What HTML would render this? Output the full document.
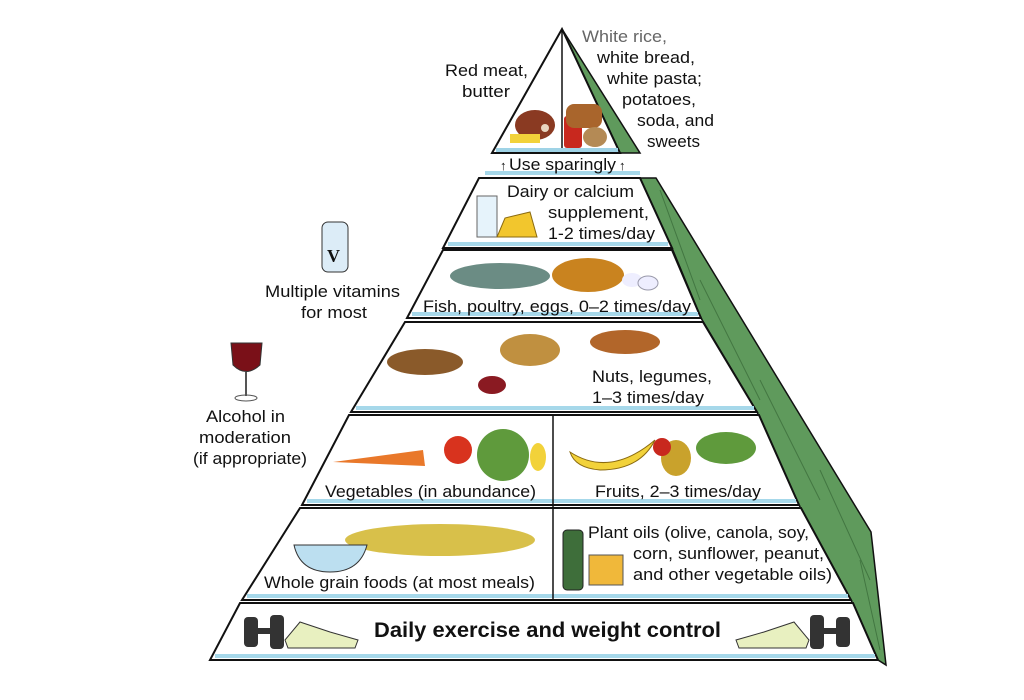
<!DOCTYPE html>
<html><head><meta charset="utf-8"><style>
html,body{margin:0;padding:0;background:#fff;}
svg{display:block;}
text{font-family:"Liberation Sans",sans-serif;fill:#111;font-size:17px;}
</style></head><body>
<svg width="1024" height="700" viewBox="0 0 1024 700" xmlns="http://www.w3.org/2000/svg">
<rect width="1024" height="700" fill="#fff"/>
<polygon points="640,178 656,178 871,532 886,665 878,660 851,600 799,505 757,412 701,318 672,248" fill="#5f9a5c" stroke="#111" stroke-width="1.5"/>
<g stroke="#2f5f30" stroke-width="1" opacity="0.6">
<line x1="660" y1="190" x2="700" y2="300"/><line x1="700" y1="280" x2="760" y2="400"/><line x1="760" y1="380" x2="820" y2="500"/><line x1="820" y1="470" x2="870" y2="580"/><line x1="860" y1="560" x2="880" y2="650"/>
</g>
<polygon points="562,29 620,153 640,153" fill="#5f9a5c" stroke="#111" stroke-width="1.5"/>
<polygon points="562,29 492,153 620,153" fill="#fff" stroke="#111" stroke-width="2"/>
<line x1="562" y1="29" x2="562" y2="153" stroke="#111" stroke-width="1.5"/>
<line x1="496" y1="150" x2="618" y2="150" stroke="#9fd3e6" stroke-width="4"/>
<g fill="#fff" stroke="#111" stroke-width="2">
<polygon points="479,178 640,178 672,248 443,248"/>
<polygon points="443,250 672,250 701,318 407,318"/>
<polygon points="405,322 703,322 757,412 351,412"/>
<polygon points="349,415 759,415 799,505 302,505"/>
<polygon points="300,508 801,508 851,600 242,600"/>
<polygon points="240,603 853,603 878,660 210,660"/>
</g>
<g stroke="#a6d8ea" stroke-width="4">
<line x1="448" y1="244" x2="668" y2="244"/>
<line x1="412" y1="314" x2="698" y2="314"/>
<line x1="356" y1="408" x2="754" y2="408"/>
<line x1="307" y1="501" x2="796" y2="501"/>
<line x1="247" y1="596" x2="848" y2="596"/>
<line x1="215" y1="656" x2="875" y2="656"/>
<line x1="485" y1="173" x2="640" y2="173"/>
</g>
<line x1="553" y1="415" x2="553" y2="600" stroke="#111" stroke-width="1.5"/>
<ellipse cx="535" cy="125" rx="20" ry="15" fill="#8a3a22"/><circle cx="545" cy="128" r="4" fill="#e9d6c0"/>
<rect x="510" y="134" width="30" height="9" fill="#f2d23a"/>
<rect x="564" y="116" width="18" height="32" rx="3" fill="#c8281e"/>
<rect x="566" y="104" width="36" height="24" rx="8" fill="#a9652c"/>
<ellipse cx="595" cy="137" rx="12" ry="10" fill="#b48a55"/>
<rect x="477" y="196" width="20" height="41" fill="#e6f3fb" stroke="#666"/>
<polygon points="497,237 537,237 530,212 505,218" fill="#f2c62d" stroke="#8a6a10"/>
<ellipse cx="500" cy="276" rx="50" ry="13" fill="#6b8c84"/>
<ellipse cx="588" cy="275" rx="36" ry="17" fill="#c9831f"/>
<ellipse cx="632" cy="280" rx="10" ry="7" fill="#eef"/><ellipse cx="648" cy="283" rx="10" ry="7" fill="#eef" stroke="#99a"/>
<rect x="322" y="222" width="26" height="50" rx="6" fill="#dcecf7" stroke="#333"/>
<text x="327" y="262" style="font-size:18px;font-family:'Liberation Serif',serif;font-weight:bold">V</text>
<path d="M231,343 L262,343 L260,365 Q246,378 233,365 Z" fill="#7a1018" stroke="#333"/>
<line x1="246" y1="372" x2="246" y2="396" stroke="#555" stroke-width="2"/>
<ellipse cx="246" cy="398" rx="11" ry="3" fill="none" stroke="#555"/>
<ellipse cx="425" cy="362" rx="38" ry="13" fill="#8a5a2a"/>
<ellipse cx="530" cy="350" rx="30" ry="16" fill="#c09040"/>
<ellipse cx="625" cy="342" rx="35" ry="12" fill="#b2662a"/>
<ellipse cx="492" cy="385" rx="14" ry="9" fill="#8a1a22"/>
<polygon points="333,462 423,450 425,466" fill="#e9782a"/>
<circle cx="458" cy="450" r="14" fill="#d8331e"/>
<circle cx="503" cy="455" r="26" fill="#5f9a3c"/>
<ellipse cx="538" cy="457" rx="8" ry="14" fill="#f2d23a"/>
<path d="M570,452 Q610,478 655,440 Q640,470 600,470 Q575,468 570,452Z" fill="#f2d23a" stroke="#8a6a10"/>
<ellipse cx="676" cy="458" rx="15" ry="18" fill="#c9a22c"/>
<circle cx="662" cy="447" r="9" fill="#c8281e"/>
<ellipse cx="726" cy="448" rx="30" ry="16" fill="#5f9a3c"/>
<ellipse cx="440" cy="540" rx="95" ry="16" fill="#d8c04a"/>
<path d="M294,545 L367,545 Q360,572 330,572 Q300,572 294,545Z" fill="#bcdff0" stroke="#333"/>
<rect x="563" y="530" width="20" height="60" rx="4" fill="#3e6e3a" stroke="#222"/>
<rect x="589" y="555" width="34" height="30" fill="#f0b83a" stroke="#555"/>
<g fill="#333"><rect x="244" y="617" width="14" height="30" rx="4"/><rect x="270" y="615" width="14" height="34" rx="4"/><rect x="256" y="628" width="16" height="6"/>
<rect x="836" y="617" width="14" height="30" rx="4"/><rect x="810" y="615" width="14" height="34" rx="4"/><rect x="822" y="628" width="16" height="6"/></g>
<path d="M285,640 L300,622 L330,632 L358,640 L355,648 L288,648Z" fill="#e8f0c0" stroke="#333"/>
<path d="M809,640 L794,622 L764,632 L736,640 L739,648 L806,648Z" fill="#e8f0c0" stroke="#333"/>
<g lengthAdjust="spacingAndGlyphs">
<text x="445" y="76" textLength="83" lengthAdjust="spacingAndGlyphs">Red meat,</text>
<text x="462" y="97" textLength="48" lengthAdjust="spacingAndGlyphs">butter</text>
<text x="582" y="42" textLength="85" lengthAdjust="spacingAndGlyphs" style="fill:#666">White rice,</text>
<text x="597" y="63" textLength="98" lengthAdjust="spacingAndGlyphs">white bread,</text>
<text x="607" y="84" textLength="95" lengthAdjust="spacingAndGlyphs">white pasta;</text>
<text x="622" y="105" textLength="74" lengthAdjust="spacingAndGlyphs">potatoes,</text>
<text x="637" y="126" textLength="77" lengthAdjust="spacingAndGlyphs">soda, and</text>
<text x="647" y="147" textLength="53" lengthAdjust="spacingAndGlyphs">sweets</text>
<text x="500" y="170" style="font-size:13px;font-weight:bold">↑</text>
<text x="509" y="170" textLength="107" lengthAdjust="spacingAndGlyphs">Use sparingly</text>
<text x="619" y="170" style="font-size:13px;font-weight:bold">↑</text>
<text x="507" y="197" textLength="127" lengthAdjust="spacingAndGlyphs">Dairy or calcium</text>
<text x="548" y="218" textLength="101" lengthAdjust="spacingAndGlyphs">supplement,</text>
<text x="548" y="239" textLength="107" lengthAdjust="spacingAndGlyphs">1-2 times/day</text>
<text x="265" y="297" textLength="135" lengthAdjust="spacingAndGlyphs">Multiple vitamins</text>
<text x="301" y="318" textLength="66" lengthAdjust="spacingAndGlyphs">for most</text>
<text x="423" y="312" textLength="268" lengthAdjust="spacingAndGlyphs">Fish, poultry, eggs, 0–2 times/day</text>
<text x="592" y="382" textLength="120" lengthAdjust="spacingAndGlyphs">Nuts, legumes,</text>
<text x="592" y="403" textLength="112" lengthAdjust="spacingAndGlyphs">1–3 times/day</text>
<text x="206" y="422" textLength="79" lengthAdjust="spacingAndGlyphs">Alcohol in</text>
<text x="199" y="443" textLength="92" lengthAdjust="spacingAndGlyphs">moderation</text>
<text x="193" y="464" textLength="114" lengthAdjust="spacingAndGlyphs">(if appropriate)</text>
<text x="325" y="497" textLength="211" lengthAdjust="spacingAndGlyphs">Vegetables (in abundance)</text>
<text x="595" y="497" textLength="166" lengthAdjust="spacingAndGlyphs">Fruits, 2–3 times/day</text>
<text x="264" y="588" textLength="271" lengthAdjust="spacingAndGlyphs">Whole grain foods (at most meals)</text>
<text x="588" y="538" textLength="221" lengthAdjust="spacingAndGlyphs">Plant oils (olive, canola, soy,</text>
<text x="633" y="559" textLength="191" lengthAdjust="spacingAndGlyphs">corn, sunflower, peanut,</text>
<text x="633" y="580" textLength="199" lengthAdjust="spacingAndGlyphs">and other vegetable oils)</text>
<text x="374" y="637" textLength="347" lengthAdjust="spacingAndGlyphs" style="font-size:21px;font-weight:bold">Daily exercise and weight control</text>
</g>
</svg>
</body></html>
